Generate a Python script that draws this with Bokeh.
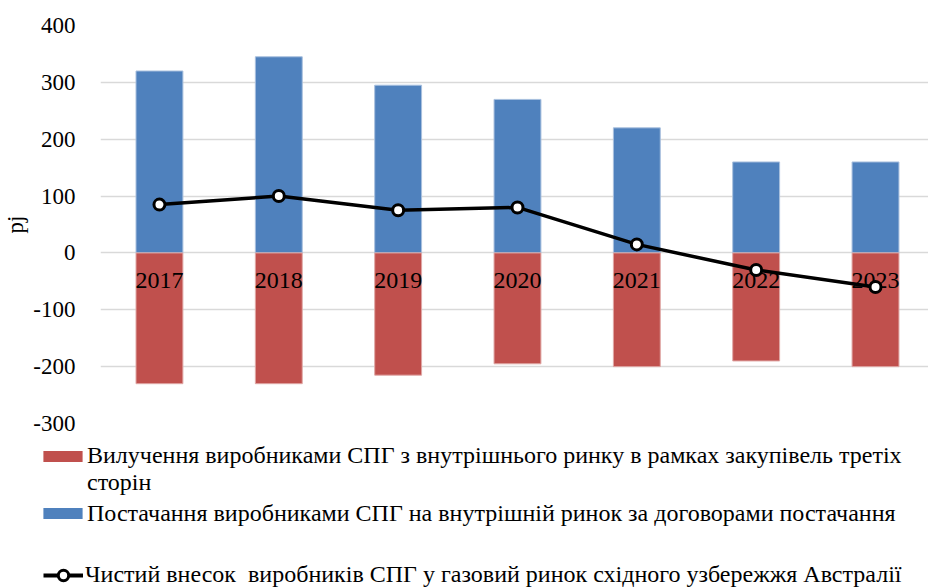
from bokeh.plotting import figure
from bokeh.layouts import column
from bokeh.models import (Range1d, Legend, LegendItem, SingleIntervalTicker, ColumnDataSource,
                          PrintfTickFormatter)
from bokeh.core.properties import value
from bokeh.embed import file_html
from bokeh.resources import INLINE

years = ["2017", "2018", "2019", "2020", "2021", "2022", "2023"]
supply = [320, 345, 295, 270, 220, 160, 160]
withdrawal = [-230, -230, -215, -195, -200, -190, -200]
net = [85, 100, 75, 80, 15, -30, -60]

label_red_1 = "Вилучення виробниками СПГ з внутрішнього ринку в рамках закупівель третіх"
label_red_2 = "сторін"
label_blue = "Постачання виробниками СПГ на внутрішній ринок за договорами постачання"
label_line = "Чистий внесок  виробників СПГ у газовий ринок східного узбережжя Австралії"

FONT = "Liberation Serif"
BLUE = "#4F81BD"
RED = "#C0504D"
xs = [i + 0.5 for i in range(len(years))]
src = ColumnDataSource(dict(x=xs, year=years, supply=supply, withdrawal=withdrawal, net=net,
                            zero=[0] * len(years)))

p = figure(width=928, height=437, output_backend="svg", toolbar_location=None,
           x_range=Range1d(0.006, 6.944), y_range=Range1d(-300, 400),
           x_axis_location=None, min_border_left=99, min_border_right=0,
           min_border_top=25, min_border_bottom=14)
p.frame_align = False
p.outline_line_color = None
p.xgrid.grid_line_color = None
p.ygrid.grid_line_color = "#d9d9d9"
p.ygrid.grid_line_width = 1.5
p.yaxis.ticker = SingleIntervalTicker(interval=100)
p.yaxis.formatter = PrintfTickFormatter(format="%d")
p.yaxis.axis_line_color = None
p.yaxis.major_tick_line_color = None
p.yaxis.minor_tick_line_color = None
p.yaxis.major_label_text_font = FONT
p.yaxis.major_label_text_font_size = "23px"
p.yaxis.major_label_text_color = "#000000"
p.yaxis.major_label_standoff = 19
p.yaxis.axis_label = "pj"
p.yaxis.axis_label_text_font = FONT
p.yaxis.axis_label_text_font_size = "23px"
p.yaxis.axis_label_text_font_style = "normal"
p.yaxis.axis_label_text_color = "#000000"
p.yaxis.axis_label_standoff = 2

r_blue = p.vbar(x="x", top="supply", bottom=0, width=0.393, source=src,
                fill_color=BLUE, line_color="#a9c0de", line_width=1)
r_red = p.vbar(x="x", top=0, bottom="withdrawal", width=0.393, source=src,
               fill_color=RED, line_color="#e0a8a6", line_width=1)

p.text(x="x", y="zero", text="year", source=src, text_align="center", text_baseline="top",
       y_offset=20, text_font=value(FONT), text_font_size="24px", text_color="#000000")

p.line(x="x", y="net", source=src, line_color="#000000", line_width=3.5)
p.scatter(x="x", y="net", source=src, size=11, fill_color="#ffffff",
          line_color="#000000", line_width=3)

# legend panel (second canvas, below the chart); hidden copies of the series give the swatches
lg = figure(width=928, height=151, output_backend="svg", toolbar_location=None,
            x_range=Range1d(0, 928), y_range=Range1d(0, 151),
            x_axis_location=None, y_axis_location=None,
            min_border_left=0, min_border_right=0, min_border_top=0, min_border_bottom=0)
lg.frame_align = False
lg.outline_line_color = None
lg.xgrid.visible = False
lg.ygrid.visible = False
d_red = lg.vbar(x="x", top=0, bottom="withdrawal", width=0.393, source=src, fill_color=RED,
                line_color=None, visible=False)
d_none = lg.vbar(x="x", top=0, bottom="withdrawal", width=0.393, source=src, fill_alpha=0,
                 line_alpha=0, visible=False)
d_blue = lg.vbar(x="x", top="supply", bottom=0, width=0.393, source=src, fill_color=BLUE,
                 line_color=None, visible=False)
d_line = lg.line(x="x", y="net", source=src, line_color="#000000", line_width=4,
                 visible=False)
d_pts = lg.scatter(x="x", y="net", source=src, size=11, fill_color="#ffffff",
                   line_color="#000000", line_width=3, visible=False)

common = dict(label_text_font=FONT, label_text_font_size="24px", label_text_color="#000000",
              glyph_width=49, glyph_height=14, label_standoff=-5, padding=0, margin=0,
              border_line_color=None, background_fill_alpha=0, label_height=23,
              label_text_line_height=0.96, inactive_fill_alpha=0, spacing=0)

leg_a = Legend(items=[LegendItem(label=label_red_1, renderers=[d_red]),
                      LegendItem(label=label_red_2, renderers=[d_none])],
               location=(38, 92), **common)
leg_b = Legend(items=[LegendItem(label=label_blue, renderers=[d_blue])],
               location=(38, 61.5), **common)
common_c = dict(common)
common_c.update(glyph_width=40, glyph_height=26, label_standoff=2)
leg_c = Legend(items=[LegendItem(label=label_line, renderers=[d_line, d_pts])],
               location=(43, 0), **common_c)
for leg in (leg_a, leg_b, leg_c):
    lg.add_layout(leg, "center")

open("out.html", "w").write(file_html(column(p, lg, spacing=0), INLINE))
